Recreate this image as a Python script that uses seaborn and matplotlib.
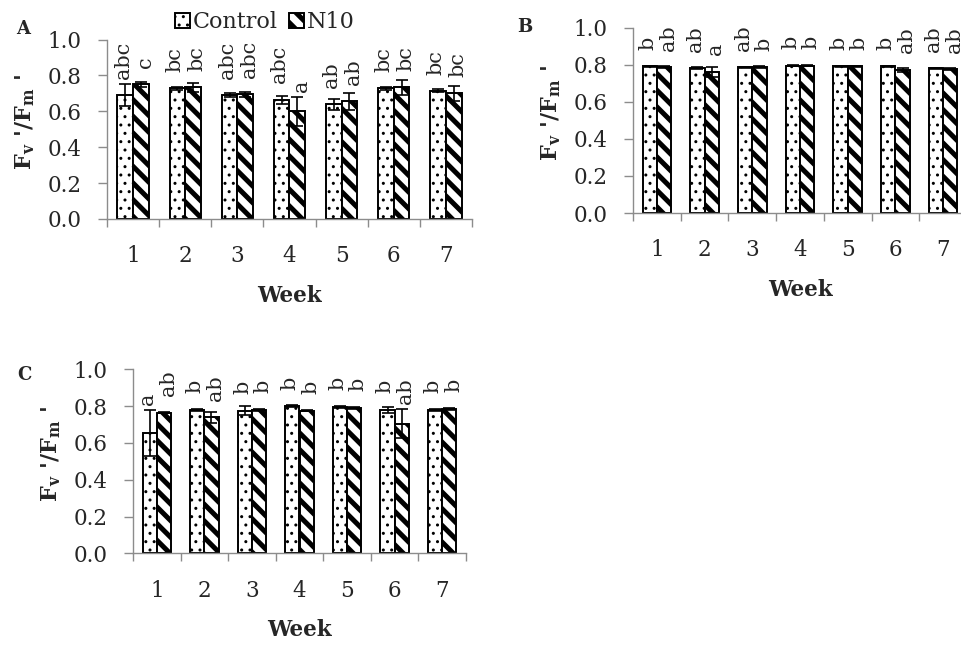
import numpy as np
import pandas as pd
import matplotlib
matplotlib.use("Agg")
import matplotlib.pyplot as plt
import matplotlib.transforms as mtransforms
import seaborn as sns

# ---------------- data ----------------
weeks = ["1", "2", "3", "4", "5", "6", "7"]
treatments = ["Control", "N10"]

a_control = [0.690, 0.728, 0.690, 0.665, 0.638, 0.728, 0.715]
a_control_err = [0.060, 0.010, 0.010, 0.022, 0.028, 0.010, 0.010]
a_n10 = [0.750, 0.733, 0.695, 0.600, 0.655, 0.733, 0.700]
a_n10_err = [0.012, 0.025, 0.015, 0.080, 0.045, 0.040, 0.042]
a_control_letters = ["abc", "bc", "abc", "abc", "ab", "bc", "bc"]
a_n10_letters = ["c", "bc", "abc", "a", "ab", "bc", "bc"]

b_control = [0.790, 0.780, 0.785, 0.795, 0.790, 0.790, 0.780]
b_control_err = [0.004, 0.005, 0.004, 0.004, 0.004, 0.005, 0.004]
b_n10 = [0.785, 0.760, 0.785, 0.795, 0.790, 0.770, 0.775]
b_n10_err = [0.005, 0.025, 0.005, 0.004, 0.004, 0.012, 0.004]
b_control_letters = ["b", "ab", "ab", "b", "b", "b", "ab"]
b_n10_letters = ["ab", "a", "b", "b", "b", "ab", "ab"]

c_control = [0.655, 0.780, 0.775, 0.800, 0.795, 0.780, 0.780]
c_control_err = [0.125, 0.004, 0.025, 0.004, 0.004, 0.015, 0.004]
c_n10 = [0.765, 0.739, 0.780, 0.775, 0.790, 0.705, 0.785]
c_n10_err = [0.004, 0.030, 0.004, 0.004, 0.004, 0.080, 0.004]
c_control_letters = ["a", "b", "b", "b", "b", "b", "b"]
c_n10_letters = ["ab", "ab", "b", "b", "b", "ab", "b"]

# ---------------- style ----------------
sns.set_style("ticks")
plt.rcParams.update({
    "font.family": ["DejaVu Serif"],
    "mathtext.fontset": "dejavuserif",
    "hatch.linewidth": 1.0,
})

GRAY = "#8c8c8c"
FS = 15.5
W, H = 962, 646
HATCHES = ["..", "\\\\"]
HATCH_LW = [1.0, 3.6]
LABEL_SHIFT = [-1.5, 3.0]  # points


def set_hlw(p, lw):
    if hasattr(p, "set_hatch_linewidth"):
        p.set_hatch_linewidth(lw)


def draw_panel(ax, ctrl, ctrl_err, n10, n10_err, let_c, let_n, ax_px):
    df = pd.DataFrame({
        "Week": weeks * 2,
        "Treatment": ["Control"] * len(weeks) + ["N10"] * len(weeks),
        "Fv": ctrl + n10,
    })
    sns.barplot(data=df, x="Week", y="Fv", hue="Treatment", hue_order=treatments,
                order=weeks, palette=["white", "white"], saturation=1, width=0.6,
                errorbar=None, edgecolor="black", linewidth=1.4, legend=False, ax=ax)
    bar_conts = list(ax.containers)
    errs = [ctrl_err, n10_err]
    labs = [let_c, let_n]
    for i, cont in enumerate(bar_conts):
        for p in cont.patches:
            p.set_hatch(HATCHES[i])
            set_hlw(p, HATCH_LW[i])
        xs = [p.get_x() + p.get_width() / 2 for p in cont.patches]
        ys = [p.get_height() for p in cont.patches]
        ax.errorbar(xs, ys, yerr=errs[i], fmt="none", ecolor="black",
                    elinewidth=1.2, capsize=4, capthick=1.2, zorder=5)
        tr = mtransforms.offset_copy(ax.transData, fig=ax.figure,
                                     x=LABEL_SHIFT[i], y=0, units="points")
        for x, y, e, t in zip(xs, ys, errs[i], labs[i]):
            ax.text(x, max(y + 0.09, y + e + 0.025), t, rotation=90,
                    ha="center", va="bottom", fontsize=15, transform=tr)

    wpx, hpx = ax_px
    ax.set_ylim(0, 1)
    ax.set_xlim(-0.5, len(weeks) - 0.5)
    ax.set_yticks(np.arange(0, 1.01, 0.2))
    ax.yaxis.set_major_formatter("{x:.1f}")
    ax.tick_params(axis="y", length=6.5, width=1, color=GRAY, pad=12,
                   labelsize=FS, direction="out")
    ax.tick_params(axis="x", which="major", length=0, pad=19, labelsize=FS)
    ax.set_xticks(np.arange(-0.5, len(weeks), 1), minor=True)
    ax.tick_params(axis="x", which="minor", length=6, width=1, color=GRAY,
                   direction="out")
    for s in ["top", "right"]:
        ax.spines[s].set_visible(False)
    for s in ["left", "bottom"]:
        ax.spines[s].set_color(GRAY)
        ax.spines[s].set_linewidth(1)
    ax.set_xlabel("Week", fontweight="bold", fontsize=FS)
    ax.xaxis.set_label_coords(0.5, -66 / hpx)
    ax.set_ylabel(r"$\mathbf{F_v}$ '/$\mathbf{F_m}$ '", fontweight="bold", fontsize=16)
    ax.yaxis.set_label_coords(-70 / wpx, 0.54)
    return bar_conts


fig = plt.figure(figsize=(W / 100, H / 100), dpi=100)

axA = fig.add_axes([107 / W, 1 - 219 / H, 365 / W, 179.5 / H])
axB = fig.add_axes([633 / W, 1 - 213 / H, 334 / W, 185.5 / H])
axC = fig.add_axes([133 / W, 1 - 553.3 / H, 333 / W, 184 / H])

contsA = draw_panel(axA, a_control, a_control_err, a_n10, a_n10_err,
                    a_control_letters, a_n10_letters, (365, 179.5))
draw_panel(axB, b_control, b_control_err, b_n10, b_n10_err,
           b_control_letters, b_n10_letters, (334, 185.5))
draw_panel(axC, c_control, c_control_err, c_n10, c_n10_err,
           c_control_letters, c_n10_letters, (333, 184))

leg = axA.legend(handles=contsA, labels=treatments, loc="center",
                 bbox_to_anchor=(0.433, 1.097), ncol=2, frameon=False, fontsize=16,
                 handlelength=0.65, handleheight=0.65, handletextpad=0.15,
                 columnspacing=0.5, borderpad=0, borderaxespad=0)
for i, p in enumerate(leg.get_patches()):
    p.set_hatch(HATCHES[i])
    set_hlw(p, HATCH_LW[i])

for tag, (x, y) in zip(["A", "B", "C"], [(23, 28.5), (525, 27), (24.5, 374.5)]):
    fig.text(x / W, 1 - y / H, tag, fontweight="bold", fontsize=13,
             ha="center", va="center")

fig.savefig("out.png", dpi=100)
